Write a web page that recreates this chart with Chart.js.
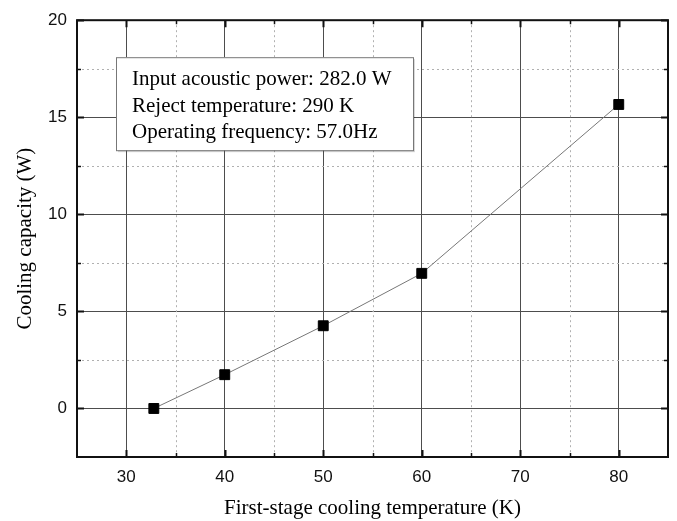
<!DOCTYPE html>
<html>
<head>
<meta charset="UTF-8">
<title>Cooling capacity vs first-stage temperature</title>
<script src="https://cdn.jsdelivr.net/npm/chart.js@4.4.0/dist/chart.umd.min.js"></script>
<style>
    body { margin: 0; background: #fff; }
    #wrap { width: 677px; height: 521px; }
</style>
</head>
<body>
<div id="wrap"><canvas id="coolingChart" width="677" height="521"></canvas></div>
<script>
// data
const temperatures = [32.8, 40, 50, 60, 80];
const coolingPower = [0.0, 1.74, 4.26, 6.96, 15.66];

const xMajorTicks = [30, 40, 50, 60, 70, 80];
const xMinorTicks = [35, 45, 55, 65, 75];
const yMajorTicks = [0, 5, 10, 15, 20];
const yMinorTicks = [2.5, 7.5, 12.5, 17.5];

const infoLines = [
    'Input acoustic power: 282.0 W',
    'Reject temperature: 290 K',
    'Operating frequency: 57.0Hz'
];

const serif = '"Liberation Serif", "Times New Roman", serif';
const sans = '"Liberation Sans", Arial, sans-serif';

// minor grid, inward ticks, frame and the info box
const framePlugin = {
    id: 'originFrame',
    beforeDatasetsDraw(chart) {
        const { ctx, chartArea: a, scales } = chart;
        ctx.save();
        ctx.strokeStyle = '#b0b0b0';
        ctx.lineWidth = 1;
        ctx.setLineDash([2, 3]);
        xMinorTicks.forEach(v => {
            const px = Math.round(scales.x.getPixelForValue(v)) + 0.5;
            ctx.beginPath(); ctx.moveTo(px, a.top); ctx.lineTo(px, a.bottom); ctx.stroke();
        });
        yMinorTicks.forEach(v => {
            const py = Math.round(scales.y.getPixelForValue(v)) + 0.5;
            ctx.beginPath(); ctx.moveTo(a.left, py); ctx.lineTo(a.right, py); ctx.stroke();
        });
        ctx.restore();
    },
    afterDraw(chart) {
        const { ctx, chartArea: a, scales } = chart;
        ctx.save();
        ctx.strokeStyle = '#111';
        const tick = (vals, len, width, horiz) => {
            ctx.lineWidth = width;
            vals.forEach(v => {
                ctx.beginPath();
                if (horiz) {
                    const px = Math.round(scales.x.getPixelForValue(v)) + 0.5;
                    ctx.moveTo(px, a.bottom); ctx.lineTo(px, a.bottom - len);
                    ctx.moveTo(px, a.top); ctx.lineTo(px, a.top + len);
                } else {
                    const py = Math.round(scales.y.getPixelForValue(v)) + 0.5;
                    ctx.moveTo(a.left, py); ctx.lineTo(a.left + len, py);
                    ctx.moveTo(a.right, py); ctx.lineTo(a.right - len, py);
                }
                ctx.stroke();
            });
        };
        tick(xMajorTicks, 7, 2, true);
        tick(xMinorTicks, 4, 1.5, true);
        tick(yMajorTicks, 7, 2, false);
        tick(yMinorTicks, 4, 1.5, false);

        ctx.lineWidth = 2;
        ctx.strokeRect(a.left, a.top, a.right - a.left, a.bottom - a.top);

        // info box
        const bx = a.left + 39, by = a.top + 37, bw = 297, bh = 93;
        ctx.fillStyle = 'rgba(0,0,0,0.15)';
        ctx.fillRect(bx + 2, by + 2, bw, bh);
        ctx.fillStyle = '#fff';
        ctx.fillRect(bx, by, bw, bh);
        ctx.strokeStyle = '#777';
        ctx.lineWidth = 1;
        ctx.strokeRect(bx + 0.5, by + 0.5, bw, bh);
        ctx.fillStyle = '#000';
        ctx.font = '21px ' + serif;
        ctx.textBaseline = 'alphabetic';
        ctx.textAlign = 'left';
        infoLines.forEach((t, i) => ctx.fillText(t, bx + 16, by + 28 + i * 26.5));
        ctx.restore();
    }
};

new Chart(document.getElementById('coolingChart'), {
    type: 'scatter',
    data: {
        datasets: [{
            data: temperatures.map((t, i) => ({ x: t, y: coolingPower[i] })),
            showLine: true,
            borderColor: '#777',
            borderWidth: 1,
            pointStyle: 'rect',
            pointRadius: 7,
            pointBackgroundColor: '#000',
            pointBorderColor: '#000',
            pointBorderWidth: 1
        }]
    },
    options: {
        responsive: false,
        animation: false,
        devicePixelRatio: 1,
        layout: { padding: { top: 19, right: 9, left: 0, bottom: 0 } },
        plugins: { legend: { display: false }, tooltip: { enabled: false } },
        scales: {
            x: {
                type: 'linear',
                min: 25,
                max: 85,
                afterBuildTicks: s => { s.ticks = xMajorTicks.map(v => ({ value: v })); },
                afterFit: s => { s.height = 64; },
                grid: { color: '#4d4d4d', lineWidth: 1, drawTicks: false },
                border: { display: false },
                ticks: { padding: 10, color: '#111', font: { family: sans, size: 17 } },
                title: {
                    display: true,
                    text: 'First-stage cooling temperature (K)',
                    color: '#000',
                    font: { family: serif, size: 21 },
                    padding: { top: 0, bottom: 0 }
                }
            },
            y: {
                type: 'linear',
                min: -2.5,
                max: 20,
                afterBuildTicks: s => { s.ticks = yMajorTicks.map(v => ({ value: v })); },
                afterFit: s => { s.width = 77; },
                grid: { color: '#4d4d4d', lineWidth: 1, drawTicks: false },
                border: { display: false },
                ticks: { padding: 10, color: '#111', font: { family: sans, size: 17 } },
                title: {
                    display: true,
                    text: 'Cooling capacity (W)',
                    color: '#000',
                    font: { family: serif, size: 21 },
                    padding: { top: 13, bottom: 0 }
                }
            }
        }
    },
    plugins: [framePlugin]
});
</script>
</body>
</html>
